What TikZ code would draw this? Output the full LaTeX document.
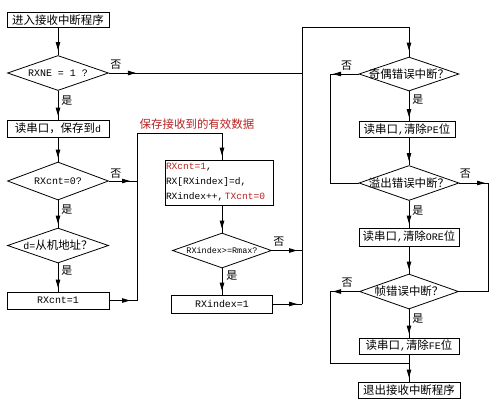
\documentclass[tikz,border=0pt]{standalone}
\usepackage{fontspec}
\setmainfont{Liberation Mono}
\newfontfamily\cjk{Noto Sans CJK SC}
\usetikzlibrary{shapes.geometric,arrows.meta,decorations.markings}
\definecolor{redtxt}{RGB}{185,35,35}
\newcommand\zh[1]{{\cjk\fontsize{11.5}{13}\selectfont #1}}
\begin{document}
\begin{tikzpicture}[x=1bp,y=-1bp,
  line width=0.8bp,
  box/.style={draw,rectangle,inner sep=0pt,font=\fontsize{10}{12}\selectfont},
  dia/.style={draw,diamond,inner sep=0pt,font=\fontsize{10}{12}\selectfont},
  arrowat/.style={postaction={decorate,decoration={markings,mark=at position #1 with {\arrow{Triangle[length=8bp,width=4.5bp]}}}}},
  lbl/.style={font=\cjk\fontsize{11}{13}\selectfont,inner sep=0pt}
]
\fill[white] (0,0) rectangle (499,407);
\useasboundingbox (0,0) rectangle (499,407);

% left column
\node[box,minimum width=102bp,minimum height=15bp] (start) at (58,20) {\zh{进入接收中断程序}};
\node[dia,minimum width=101bp,minimum height=35bp] (d1) at (58,73) {\makebox[0pt]{RXNE = 1 ?}};
\node[box,minimum width=102bp,minimum height=17bp] (b1) at (58,128.5) {\zh{读串口，保存到}d};
\node[dia,minimum width=101bp,minimum height=38bp] (d2) at (58,181) {\makebox[0pt]{RXcnt=0?}};
\node[dia,minimum width=101bp,minimum height=35bp] (d3) at (58,245.5) {\makebox[0pt]{d=\zh{从机地址？}}};
\node[box,minimum width=102bp,minimum height=17bp] (b2) at (58,300.5) {RXcnt=1};

% middle column
\node[inner sep=0pt,text=redtxt] (note) at (197,124) {\zh{保存接收到的有效数据}};
\node[box,minimum width=108bp,minimum height=45bp,text width=106bp,align=left,inner xsep=1bp,font=\fontsize{9.6}{15}\selectfont] (b3) at (219,182.5) {\mbox{\textcolor{redtxt}{RXcnt=1},}\\\mbox{RX[RXindex]=d,}\\\mbox{RXindex++,\,\textcolor{redtxt}{TXcnt=0}}};
\node[dia,minimum width=99bp,minimum height=35bp,font=\fontsize{8.5}{10}\selectfont] (d4) at (222,250.5) {\makebox[0pt]{RXindex>=Rmax?}};
\node[box,minimum width=101bp,minimum height=18bp] (b4) at (222,304) {RXindex=1};

% right column
\node[dia,minimum width=100bp,minimum height=34bp] (d5) at (409,74) {\makebox[0pt]{\zh{奇偶错误中断？}}};
\node[box,minimum width=96bp,minimum height=16bp] (b5) at (407,129.5) {\zh{读串口},\zh{清除}PE\zh{位}};
\node[dia,minimum width=100bp,minimum height=35bp] (d6) at (409,183) {\makebox[0pt]{\zh{溢出错误中断？}}};
\node[box,minimum width=100bp,minimum height=18bp] (b6) at (409,237) {\zh{读串口},\zh{清除}ORE\zh{位}};
\node[dia,minimum width=99bp,minimum height=35bp] (d7) at (409,291.5) {\makebox[0pt]{\zh{帧错误中断？}}};
\node[box,minimum width=100bp,minimum height=16bp] (b7) at (409,346) {\zh{读串口},\zh{清除}FE\zh{位}};
\node[box,minimum width=102bp,minimum height=16bp] (end) at (409,390) {\zh{退出接收中断程序}};

% helper coordinates
\coordinate (lt) at (137,133);
\coordinate (rt) at (302,27);
\coordinate (ll) at (330,0);
\coordinate (rr) at (488,0);
\coordinate (jn) at (409,363);

% left column connectors
\draw[arrowat=-5bp] (start) -- (d1);
\draw[arrowat=-4bp] (d1) -- (b1);
\draw[arrowat=-4bp] (b1) -- (d2);
\draw[arrowat=-4bp] (d2) -- (d3);
\draw[arrowat=-4bp] (d3) -- (b2);
\draw[arrowat=-7bp] (d2.east) -- (d2.east -| lt);
\draw[arrowat=-7bp] (b2.east) -- (b2.east -| lt);
\draw[arrowat=-4bp] (b2.east -| lt) -- (lt) -| (d4.north |- b3.north);

% middle connectors
\draw[arrowat=-4bp] (d4.north |- b3.south) -- (d4.north);
\draw[arrowat=-4bp] (d4) -- (b4);
\draw[arrowat=27bp] (d1.east) -- (d1.east -| rt);
\draw[arrowat=-5bp] (d4.east) -- (d4.east -| rt);
\draw[arrowat=-5bp] (b4.east) -- (b4.east -| rt);
\draw[arrowat=-6bp] (b4.east -| rt) -- (rt) -| (d5.north);

% right connectors
\draw[arrowat=-4bp] (d5.south) -- (d5.south |- b5.north);
\draw[arrowat=-4bp] (d5.south |- b5.south) -- (d6.north);
\draw[arrowat=-4bp] (d6) -- (b6);
\draw[arrowat=-4bp] (b6) -- (d7);
\draw[arrowat=-4bp] (d7) -- (b7);
\draw[arrowat=-4bp] (b7) -- (end);
\draw[arrowat=-3bp] (d5.west) -- (d5.west -| ll);
\draw (d5.west -| ll) |- (d6.west);
\draw[arrowat=-3bp] (d6.east) -- (d6.east -| rr);
\draw (d6.east -| rr) |- (d7.east);
\draw[arrowat=-3bp] (d7.west) -- (d7.west -| ll);
\draw (d7.west -| ll) |- (jn);

% yes / no labels
\node[lbl,anchor=north west] (y1) at ([xshift=3bp,yshift=-4bp]d1.south) {是};
\node[lbl,anchor=north west] (y2) at ([xshift=3bp,yshift=-4bp]d2.south) {是};
\node[lbl,anchor=north west] (y3) at ([xshift=3bp,yshift=-2bp]d3.south) {是};
\node[lbl,anchor=north west] (y4) at ([xshift=4bp,yshift=-2bp]d4.south) {是};
\node[lbl,anchor=north west] (y5) at ([xshift=3bp,yshift=-3bp]d5.south) {是};
\node[lbl,anchor=north west] (y6) at ([xshift=3bp,yshift=-4bp]d6.south) {是};
\node[lbl,anchor=north west] (y7) at ([xshift=3bp,yshift=-4bp]d7.south) {是};
\node[lbl,anchor=south west] (n1) at ([xshift=1bp,yshift=3bp]d1.east) {否};
\node[lbl,anchor=south west] (n2) at ([xshift=1bp,yshift=2bp]d2.east) {否};
\node[lbl,anchor=south west] (n4) at ([xshift=1bp,yshift=4bp]d4.east) {否};
\node[lbl,anchor=south east] (n5) at ([xshift=-6bp,yshift=3bp]d5.west) {否};
\node[lbl,anchor=south west] (n6) at ([xshift=0bp,yshift=4bp]d6.east) {否};
\node[lbl,anchor=south east] (n7) at ([xshift=-6bp,yshift=4bp]d7.west) {否};
\end{tikzpicture}
\end{document}
